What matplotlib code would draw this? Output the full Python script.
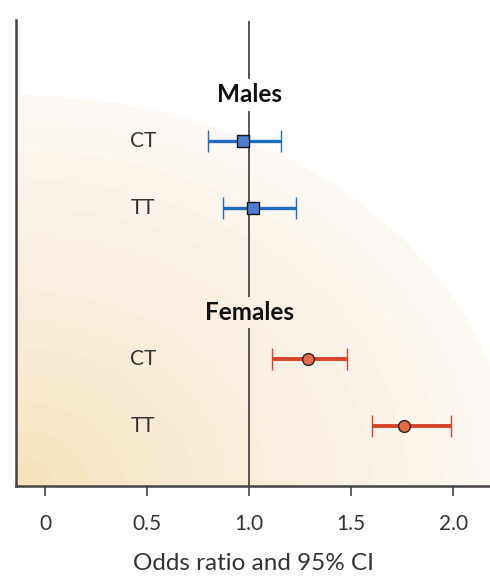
import matplotlib
matplotlib.use("Agg")
import matplotlib.pyplot as plt
import numpy as np
from matplotlib.colors import LinearSegmentedColormap

# Data
groups = ["Males", "Females"]
genotypes = ["CT", "TT"]
male_or = [0.97, 1.02]
male_lo = [0.80, 0.87]
male_hi = [1.155, 1.23]
female_or = [1.29, 1.76]
female_lo = [1.11, 1.60]
female_hi = [1.48, 1.99]
xticks = [0, 0.5, 1.0, 1.5, 2.0]
xtick_labels = ["0", "0.5", "1.0", "1.5", "2.0"]

# layout (row positions, top to bottom)
male_rows = [0, 1]
female_rows = [3.25, 4.25]
header_offset = 0.69

plt.rcParams['font.family'] = ['Lato', 'DejaVu Sans']

fig = plt.figure(figsize=(4.9, 5.8), dpi=100)
ax = fig.add_axes([16 / 490, 1 - 486 / 580, 1 - 16 / 490, (486 - 20) / 580])
ax.set_xlim(-0.142, 2.18)
ax.set_ylim(5.15, -1.81)

# soft background gradient: beige in bottom-left, fading to white
nx, ny = 300, 300
gx, gy = np.meshgrid(np.linspace(0, 1, nx), np.linspace(0, 1, ny))
d = np.sqrt((gx / 1.05) ** 2 + (gy / 0.84) ** 2)
d = np.clip(d, 0, 1)
d = np.floor(d * 14) / 14  # slight banding like the original
cmap = LinearSegmentedColormap.from_list(
    "bg", [(0, "#f7e2bc"), (0.3, "#f9ebd4"), (0.65, "#fbf2e6"), (0.93, "#fdf9f4"), (1.0, "#ffffff")])
ax.imshow(d, cmap=cmap, vmin=0, vmax=1, origin="lower", aspect="auto",
          extent=[0, 1, 0, 1], transform=ax.transAxes, zorder=0, interpolation="bilinear")

# reference line at OR = 1, broken around the group headers
hdr_m = male_rows[0] - header_offset
hdr_f = female_rows[0] - header_offset
gap = 0.25
segs = [(-1.78, hdr_m - gap), (hdr_m + gap, hdr_f - gap), (hdr_f + gap, 5.15)]
for y0, y1 in segs:
    ax.plot([1.0, 1.0], [y0, y1], color="#555555", lw=1.4, zorder=1)

# error bars
blue = "#1f6cc0"
red = "#d8432a"
ax.errorbar(male_or, male_rows,
            xerr=[np.subtract(male_or, male_lo), np.subtract(male_hi, male_or)],
            fmt="s", color=blue, ecolor=blue, elinewidth=2.4, capsize=8, capthick=3,
            markersize=8, markerfacecolor="#4d7ed0", markeredgecolor="#111111",
            markeredgewidth=1.0, zorder=3)
ax.errorbar(female_or, female_rows,
            xerr=[np.subtract(female_or, female_lo), np.subtract(female_hi, female_or)],
            fmt="o", color=red, ecolor=red, elinewidth=2.8, capsize=8, capthick=3,
            markersize=8.5, markerfacecolor="#e46b45", markeredgecolor="#222222",
            markeredgewidth=1.0, zorder=3)

# row labels and headers
for rows in (male_rows, female_rows):
    for y, g in zip(rows, genotypes):
        ax.text(0.48, y, g, ha="center", va="center", fontsize=15,
                color="#333333", zorder=4)
ax.text(1.0, hdr_m, groups[0], ha="center", va="center", fontsize=17.5,
        fontweight="bold", color="#111111", zorder=4)
ax.text(1.0, hdr_f, groups[1], ha="center", va="center", fontsize=17.5,
        fontweight="bold", color="#111111", zorder=4)

# axes styling
for s in ["top", "right"]:
    ax.spines[s].set_visible(False)
for s in ["left", "bottom"]:
    ax.spines[s].set_color("#444444")
    ax.spines[s].set_linewidth(1.8)
ax.set_yticks([])
ax.set_xticks(xticks)
ax.set_xticklabels(xtick_labels, fontsize=15, color="#333333")
ax.tick_params(axis="x", direction="out", length=7, width=1.2, color="#444444", pad=13)
ax.set_xlabel("Odds ratio and 95% CI", fontsize=17.5, color="#333333", labelpad=14)

fig.savefig("out.png", dpi=100)
